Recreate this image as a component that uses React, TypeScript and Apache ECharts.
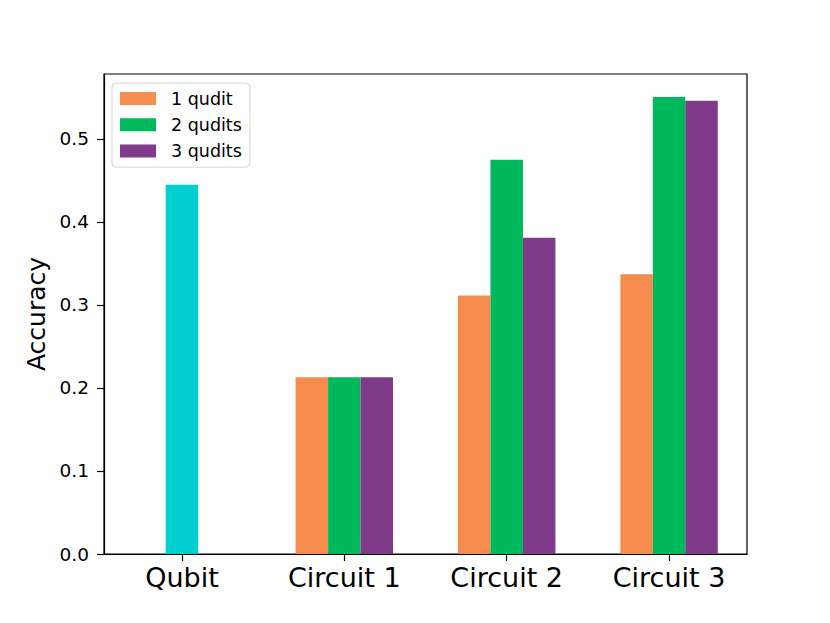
import React, { useEffect, useRef } from "react";
import * as echarts from "echarts";

const categories = ["Qubit", "Circuit 1", "Circuit 2", "Circuit 3"];
const qubitValues: (number | null)[] = [0.4446, null, null, null];
const oneQudit: (number | null)[] = [null, 0.2129, 0.3112, 0.337];
const twoQudits: (number | null)[] = [null, 0.2129, 0.4747, 0.5502];
const threeQudits: (number | null)[] = [null, 0.2129, 0.3807, 0.5458];
const yTicks = [0, 0.1, 0.2, 0.3, 0.4, 0.5];

const BAR_W = 0.2;
const FONT = "DejaVu Sans";

function toData(vals: (number | null)[], offset: number) {
  const out: number[][] = [];
  vals.forEach((v, i) => {
    if (v !== null) out.push([i + offset, v]);
  });
  return out;
}

function barSeries(name: string, vals: (number | null)[], offset: number, color: string) {
  return {
    type: "custom",
    name,
    itemStyle: { color },
    data: toData(vals, offset),
    encode: { x: 0, y: 1 },
    renderItem: (params: any, api: any) => {
      const x = api.value(0);
      const y = api.value(1);
      const p0 = api.coord([x - BAR_W / 2, y]);
      const p1 = api.coord([x + BAR_W / 2, 0]);
      return {
        type: "rect",
        shape: { x: p0[0], y: p0[1], width: p1[0] - p0[0], height: p1[1] - p0[1] },
        style: { fill: color },
      };
    },
  };
}

export default function App() {
  const ref = useRef<HTMLDivElement>(null);
  useEffect(() => {
    if (!ref.current) return;
    const chart = echarts.init(ref.current, null, { renderer: "svg" });
    chart.setOption({
      animation: false,
      backgroundColor: "#ffffff",
      textStyle: { fontFamily: FONT },
      grid: {
        left: 104,
        right: 83,
        top: 74,
        bottom: 69,
        show: true,
        borderColor: "#000",
        borderWidth: 1.2,
        backgroundColor: "transparent",
      },
      legend: {
        data: ["1 qudit", "2 qudits", "3 qudits"],
        orient: "vertical",
        left: 112,
        top: 83,
        icon: "rect",
        itemWidth: 36,
        itemHeight: 13,
        itemGap: 8.3,
        padding: [6.5, 8, 7, 8],
        backgroundColor: "#fff",
        borderColor: "#d4d4d4",
        borderWidth: 1,
        borderRadius: 4,
        textStyle: {
          fontFamily: FONT,
          fontSize: 17.5,
          color: "#000",
          lineHeight: 18,
          padding: [0, 0, 0, 10],
        },
      },
      xAxis: {
        type: "value",
        min: -0.48,
        max: 3.48,
        splitLine: { show: false },
        axisLine: { show: true, onZero: false, lineStyle: { color: "#000", width: 1.2 } },
        axisTick: {
          show: true,
          length: 7,
          customValues: categories.map((_, i) => i),
          lineStyle: { color: "#000", width: 1.2 },
        },
        axisLabel: {
          customValues: categories.map((_, i) => i),
          formatter: (v: number) => categories[Math.round(v)] ?? "",
          fontFamily: FONT,
          fontSize: 27,
          color: "#000",
          margin: 10,
        },
      },
      yAxis: {
        type: "value",
        min: 0,
        max: 0.578,
        name: "Accuracy",
        nameLocation: "middle",
        nameGap: 46,
        nameTextStyle: { fontFamily: FONT, fontSize: 25, color: "#000" },
        splitLine: { show: false },
        axisLine: { show: true, onZero: false, lineStyle: { color: "#000", width: 1.2 } },
        axisTick: {
          show: true,
          length: 7,
          customValues: yTicks,
          lineStyle: { color: "#000", width: 1.2 },
        },
        axisLabel: {
          customValues: yTicks,
          formatter: (v: number) => v.toFixed(1),
          fontFamily: FONT,
          fontSize: 18.5,
          color: "#000",
          margin: 15,
        },
      },
      series: [
        barSeries("Qubit", qubitValues, 0, "#00CED1"),
        barSeries("1 qudit", oneQudit, -BAR_W, "#F68C4D"),
        barSeries("2 qudits", twoQudits, 0, "#00B85C"),
        barSeries("3 qudits", threeQudits, BAR_W, "#7F3A8A"),
      ],
    });
    return () => chart.dispose();
  }, []);
  return (
    <div
      ref={ref}
      style={{ position: "fixed", left: 0, top: 0, width: 830, height: 623 }}
    />
  );
}
